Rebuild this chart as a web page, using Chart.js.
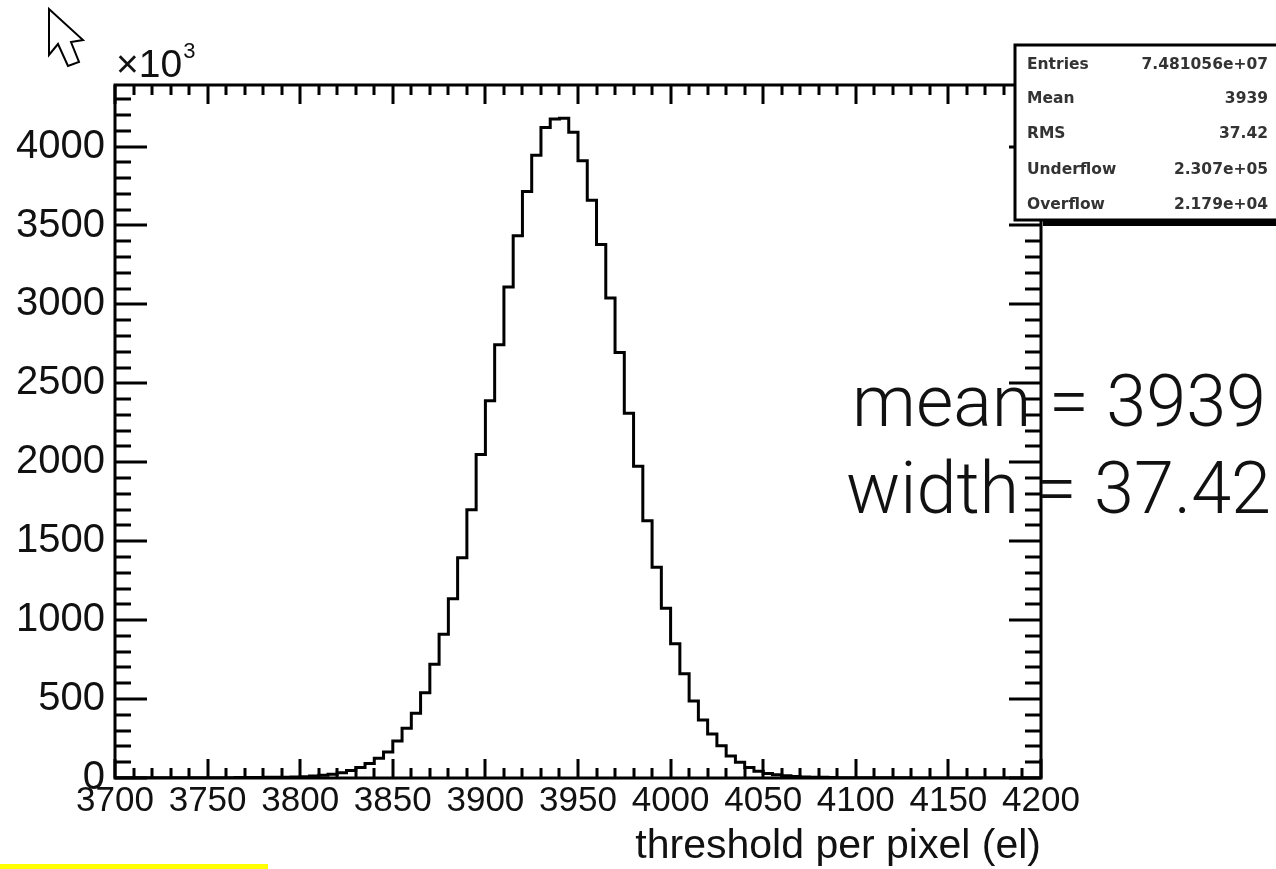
<!DOCTYPE html>
<html>
<head>
<meta charset="utf-8">
<script src="https://cdn.jsdelivr.net/npm/chart.js@4.4.1/dist/chart.umd.min.js"></script>
<style>
html,body{margin:0;padding:0;background:#fff;}
canvas{display:block;}
</style>
</head>
<body>
<canvas id="c" width="1276" height="869"></canvas>
<script>
// ---- data (counts in units of 10^3), bins of width 5 from 3700 to 4200 ----
const binLow = 3700;
const binWidth = 5;
const counts = [
  1, 1, 1, 1, 1, 1, 1, 1, 1, 2,          // 3700-3745
  2, 2, 2, 3, 3, 3, 4, 4, 5, 6,          // 3750-3795
  8, 12, 18, 24, 33, 48, 66, 92, 125, 165, // 3800-3845
  235, 315, 410, 540, 720, 910, 1135, 1395, 1700, 2050, // 3850-3895
  2390, 2745, 3110, 3435, 3715, 3945, 4120, 4175, 4180, 4090, // 3900-3945
  3910, 3660, 3380, 3040, 2695, 2310, 1975, 1630, 1335, 1075, // 3950-3995
  850, 660, 487, 368, 278, 205, 140, 100, 66, 43, // 4000-4045
  28, 20, 14, 10, 7, 5, 4, 3, 2, 2,     // 4050-4095
  1, 1, 1, 1, 1, 1, 0, 0, 0, 0,          // 4100-4145
  0, 0, 0, 0, 0, 0, 0, 0, 0, 0           // 4150-4195
];
const xTickValues = [3700, 3750, 3800, 3850, 3900, 3950, 4000, 4050, 4100, 4150, 4200];
const yTickValues = [0, 500, 1000, 1500, 2000, 2500, 3000, 3500, 4000];
const xMin = 3700, xMax = 4200, yMin = 0, yMax = 4390;
const statsLabels = ["Entries", "Mean", "RMS", "Underflow", "Overflow"];
const statsValues = ["7.481056e+07", "3939", "37.42", "2.307e+05", "2.179e+04"];
const noteLines = ["mean = 3939", "width = 37.42"];
const xTitle = "threshold per pixel (el)";

// build step points (left edges + closing edge)
const points = counts.map((v, i) => ({x: binLow + i * binWidth, y: v}));
points.push({x: binLow + counts.length * binWidth, y: counts[counts.length - 1]});

const rootFrame = {
  id: 'rootFrame',
  afterDatasetsDraw(chart) {
    const {ctx, chartArea: a, scales: {x, y}} = chart;
    ctx.save();
    ctx.strokeStyle = '#000';
    ctx.lineWidth = 3;
    ctx.lineCap = 'butt';
    ctx.beginPath();
    for (let v = xMin; v <= xMax + 1e-6; v += 10) {
      const px = Math.round(x.getPixelForValue(v));
      const major = (v % 50 === 0);
      const len = major ? 19 : 10;
      ctx.moveTo(px, a.bottom); ctx.lineTo(px, a.bottom - len);
      ctx.moveTo(px, a.top); ctx.lineTo(px, a.top + len);
    }
    for (let v = yMin; v <= yMax; v += 100) {
      const py = Math.round(y.getPixelForValue(v));
      const major = (v % 500 === 0);
      const len = major ? 32 : 16;
      ctx.moveTo(a.left, py); ctx.lineTo(a.left + len, py);
      ctx.moveTo(a.right, py); ctx.lineTo(a.right - len, py);
    }
    ctx.stroke();
    ctx.strokeRect(a.left, a.top, a.right - a.left, a.bottom - a.top);
    ctx.restore();
  },
  afterDraw(chart) {
    const {ctx, chartArea: a} = chart;
    ctx.save();
    // x10^3 multiplier
    ctx.fillStyle = '#111';
    ctx.textBaseline = 'alphabetic';
    ctx.textAlign = 'left';
    ctx.font = '39px "Liberation Sans", Arial, sans-serif';
    ctx.fillText('\u00d710', a.left + 1, 77);
    const w10 = ctx.measureText('\u00d710').width;
    ctx.font = '22px "Liberation Sans", Arial, sans-serif';
    ctx.fillText('3', a.left + 2 + w10, 58);

    // big annotation text
    ctx.font = '300 72px Roboto, Lato, sans-serif';
    ctx.textAlign = 'right';
    ctx.fillStyle = '#111';
    ctx.fillText(noteLines[0], 1266, 426);
    ctx.fillText(noteLines[1], 1271, 513);

    // stats box with shadow
    const bx = 1015, by = 45, bw = 300, bh = 175;
    ctx.fillStyle = '#000';
    ctx.fillRect(bx + 28, by + bh, bw, 6);
    ctx.fillStyle = '#fff';
    ctx.fillRect(bx, by, bw, bh);
    ctx.strokeStyle = '#000';
    ctx.lineWidth = 3;
    ctx.strokeRect(bx, by, bw, bh);
    ctx.font = 'bold 15.5px "DejaVu Sans", sans-serif';
    ctx.fillStyle = '#333';
    ctx.textBaseline = 'middle';
    const rowsY = [65, 99, 134, 170, 205];
    statsLabels.forEach((t, i) => {
      ctx.textAlign = 'left';
      ctx.fillText(t, 1027, rowsY[i]);
      ctx.textAlign = 'right';
      ctx.fillText(statsValues[i], 1268, rowsY[i]);
    });

    // mouse pointer
    ctx.beginPath();
    ctx.moveTo(49, 9); ctx.lineTo(49, 55); ctx.lineTo(58, 44); ctx.lineTo(68, 66);
    ctx.lineTo(79, 62); ctx.lineTo(71, 42); ctx.lineTo(83, 40); ctx.closePath();
    ctx.fillStyle = '#fff'; ctx.fill();
    ctx.lineWidth = 2; ctx.strokeStyle = '#000'; ctx.stroke();

    // yellow highlight strip
    ctx.fillStyle = '#ffff00';
    ctx.fillRect(0, 864, 268, 5);
    ctx.restore();
  }
};

new Chart(document.getElementById('c'), {
  type: 'line',
  data: {
    datasets: [{
      data: points,
      stepped: 'before',
      borderColor: '#000',
      borderWidth: 3,
      pointRadius: 0,
      fill: false,
      tension: 0
    }]
  },
  options: {
    responsive: false,
    animation: false,
    events: [],
    layout: {padding: {left: 0, right: 235, top: 85, bottom: 0}},
    plugins: {legend: {display: false}, tooltip: {enabled: false}},
    scales: {
      x: {
        type: 'linear',
        min: xMin, max: xMax,
        grid: {display: false, drawTicks: false},
        border: {display: false},
        afterFit: s => { s.height = 91; },
        afterBuildTicks: s => { s.ticks = xTickValues.map(v => ({value: v})); },
        ticks: {
          autoSkip: false, maxRotation: 0, padding: 2,
          color: '#111',
          callback: v => String(v),
          font: {family: '"Liberation Sans", Arial, sans-serif', size: 35}
        },
        title: {
          display: true, text: xTitle, align: 'end', color: '#111',
          padding: {top: 0, bottom: 2},
          font: {family: '"Liberation Sans", Arial, sans-serif', size: 41, lineHeight: 1.0}
        }
      },
      y: {
        type: 'linear',
        min: yMin, max: yMax,
        grid: {display: false, drawTicks: false},
        border: {display: false},
        afterFit: s => { s.width = 115; },
        afterBuildTicks: s => { s.ticks = yTickValues.map(v => ({value: v})); },
        ticks: {
          autoSkip: false, padding: 10,
          color: '#111',
          callback: v => String(v),
          font: {family: '"Liberation Sans", Arial, sans-serif', size: 40}
        }
      }
    }
  },
  plugins: [rootFrame]
});
</script>
</body>
</html>
